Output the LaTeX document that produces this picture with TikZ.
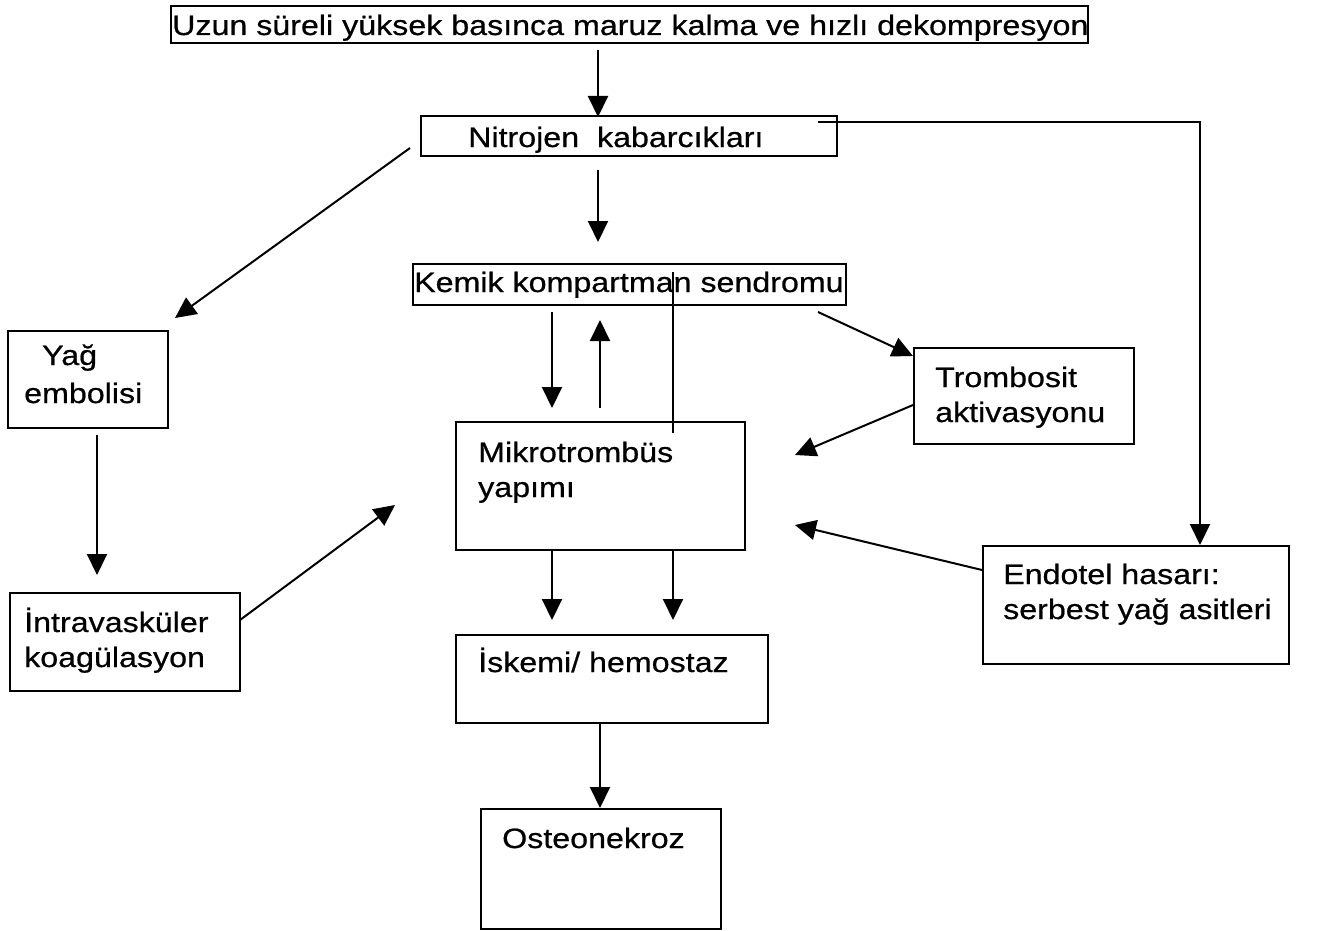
\documentclass[tikz,border=0pt]{standalone}
\usepackage{fontspec}
\setmainfont{Liberation Sans}[FakeStretch=1.15,FakeBold=0.6]
\usetikzlibrary{arrows.meta}
\begin{document}
\begin{tikzpicture}[x=1pt,y=-1pt,
  box/.style={draw, line width=1.6pt, inner sep=0pt, anchor=north west},
  lbl/.style={anchor=base west, inner sep=0pt, align=left, font=\fontsize{28}{35}\selectfont},
  arr/.style={line width=2pt, -{Triangle[length=21pt,width=20pt]}},
  ln/.style={line width=2pt}]
\fill[white] (0,0) rectangle (1317,931);
\useasboundingbox (0,0) rectangle (1317,931);
% boxes
\node[box, minimum width=917pt, minimum height=37pt] (top) at (170,5) {};
\node[box, minimum width=416pt, minimum height=40pt] (nit) at (420,115) {};
\node[box, minimum width=433pt, minimum height=41pt] (kem) at (412,263) {};
\node[box, minimum width=160pt, minimum height=97pt] (yag) at (7,330) {};
\node[box, minimum width=289pt, minimum height=128pt] (mik) at (455,421) {};
\node[box, minimum width=220pt, minimum height=96pt] (tro) at (913,347) {};
\node[box, minimum width=306pt, minimum height=118pt] (end) at (982,545) {};
\node[box, minimum width=230pt, minimum height=98pt] (int) at (9,592) {};
\node[box, minimum width=312pt, minimum height=88pt] (isk) at (455,634) {};
\node[box, minimum width=240pt, minimum height=120pt] (ost) at (480,808) {};
% texts (multi-line texts are placed at the baseline of their last line)
\node[lbl] (ttop) at (172,35) {Uzun süreli yüksek basınca maruz kalma ve hızlı dekompresyon};
\node[lbl] (tnit) at (468,147) {Nitrojen\ \ kabarcıkları};
\node[lbl] (tkem) at (414,292) {Kemik kompartman sendromu};
\node[lbl] (tyag) at (24,403) {\hspace*{18pt}Yağ\\[3pt]embolisi};
\node[lbl] (tmik) at (478,497) {Mikrotrombüs\\yapımı};
\node[lbl] (ttro) at (935,422) {Trombosit\\aktivasyonu};
\node[lbl] (tend) at (1003,619) {Endotel hasarı:\\serbest yağ asitleri};
\node[lbl] (tint) at (24,667) {İntravasküler\\koagülasyon};
\node[lbl] (tisk) at (478,672) {İskemi/ hemostaz};
\node[lbl] (tost) at (502,848) {Osteonekroz};
% connector end points
\coordinate (c1a) at (598,50);   \coordinate (c1b) at (598,117);
\coordinate (c2a) at (598,170);  \coordinate (c2b) at (598,242);
\coordinate (c3a) at (410,148);  \coordinate (c3b) at (175,318);
\coordinate (c4a) at (818,122);  \coordinate (c4k) at (1200,122); \coordinate (c4b) at (1200,545);
\coordinate (c5a) at (552,312);  \coordinate (c5b) at (552,408);
\coordinate (c6a) at (600,408);  \coordinate (c6b) at (600,320);
\coordinate (c7a) at (673,272);  \coordinate (c7b) at (673,433);
\coordinate (c8a) at (818,312);  \coordinate (c8b) at (913,356);
\coordinate (c9a) at (913,405);  \coordinate (c9b) at (795,455);
\coordinate (c10a) at (982,570); \coordinate (c10b) at (795,525);
\coordinate (c11a) at (97,435);  \coordinate (c11b) at (97,575);
\coordinate (c12a) at (240,620); \coordinate (c12b) at (395,505);
\coordinate (c13a) at (552,550); \coordinate (c13b) at (552,620);
\coordinate (c14a) at (673,550); \coordinate (c14b) at (673,620);
\coordinate (c15a) at (600,723); \coordinate (c15b) at (600,808);
% connectors
\draw[arr] (c1a) -- (c1b);
\draw[arr] (c2a) -- (c2b);
\draw[arr] (c3a) -- (c3b);
\draw[arr] (c4a) -- (c4k) -- (c4b);
\draw[arr] (c5a) -- (c5b);
\draw[arr] (c6a) -- (c6b);
\draw[ln] (c7a) -- (c7b);
\draw[arr] (c8a) -- (c8b);
\draw[arr] (c9a) -- (c9b);
\draw[arr] (c10a) -- (c10b);
\draw[arr] (c11a) -- (c11b);
\draw[arr] (c12a) -- (c12b);
\draw[arr] (c13a) -- (c13b);
\draw[arr] (c14a) -- (c14b);
\draw[arr] (c15a) -- (c15b);
\end{tikzpicture}
\end{document}
